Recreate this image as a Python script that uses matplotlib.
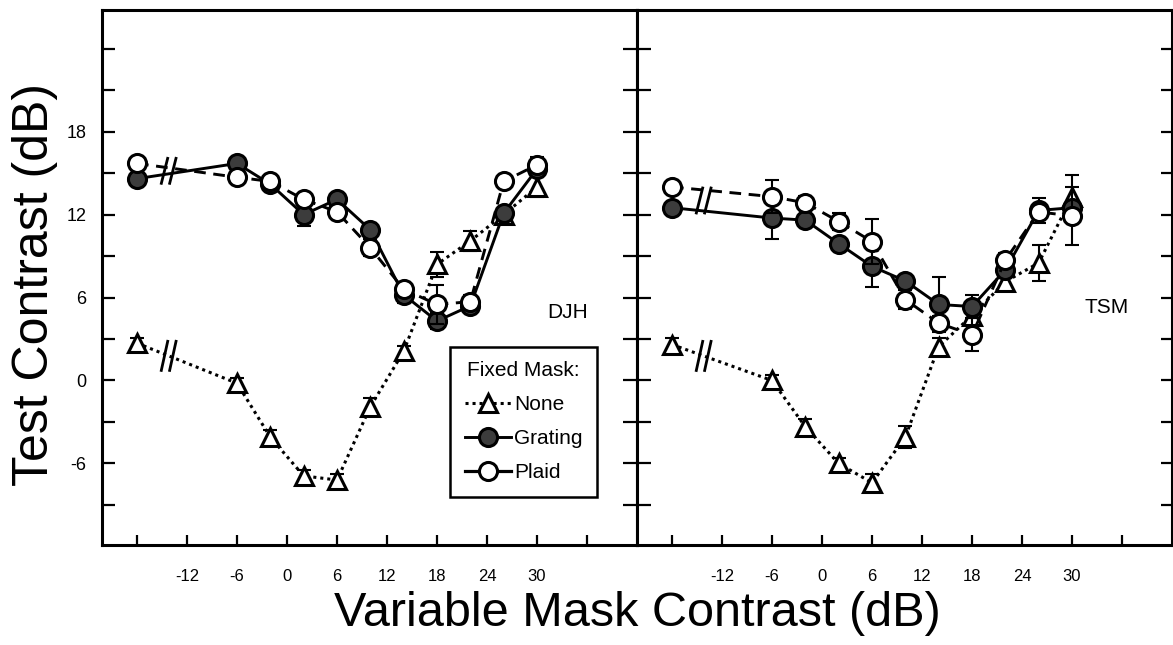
import matplotlib
matplotlib.use("Agg")
import matplotlib.pyplot as plt
import numpy as np
from matplotlib.lines import Line2D

plt.rcParams['font.family'] = ['Liberation Sans', 'DejaVu Sans']

# Variable mask contrast (dB). The first level is the "no variable mask"
# condition, plotted at -18 on the far side of the axis break.
mask_db = [-18, -6, -2, 2, 6, 10, 14, 18, 22, 26, 30]

# Observer DJH: test thresholds (dB) for each fixed-mask condition
djh_none = [2.7, -0.2, -4.1, -6.9, -7.2, -1.9, 2.1, 8.4, 10.1, 12.0, 14.0]
djh_none_err = [0.4, 0.4, 0.5, 0.4, 0.4, 0.6, 0.4, 0.9, 0.7, 0.4, 0.7]
djh_grating = [14.6, 15.7, 14.2, 12.0, 13.1, 10.9, 6.2, 4.3, 5.4, 12.1, 15.3]
djh_grating_err = [0.3, 0.3, 0.4, 0.8, 0.4, 0.5, 0.6, 0.6, 0.4, 0.4, 0.4]
djh_plaid = [15.7, 14.7, 14.4, 13.1, 12.2, 9.6, 6.6, 5.5, 5.7, 14.4, 15.6]
djh_plaid_err = [0.3, 0.3, 0.5, 0.4, 0.4, 0.6, 0.5, 1.4, 0.5, 0.4, 0.6]

# Observer TSM
tsm_none = [2.6, 0.0, -3.35, -6.0, -7.4, -4.1, 2.45, 4.7, 7.15, 8.5, 13.3]
tsm_none_err = [0.5, 0.4, 0.6, 0.4, 0.6, 0.8, 0.6, 0.6, 0.6, 1.3, 1.6]
tsm_grating = [12.5, 11.75, 11.6, 9.9, 8.25, 7.2, 5.5, 5.35, 8.0, 12.3, 12.5]
tsm_grating_err = [0.3, 1.5, 0.4, 0.4, 1.5, 0.4, 2.0, 0.8, 0.5, 0.9, 0.5]
tsm_plaid = [14.0, 13.3, 12.85, 11.5, 10.05, 5.85, 4.15, 3.3, 8.7, 12.2, 11.9]
tsm_plaid_err = [0.3, 1.2, 0.5, 0.6, 1.6, 0.7, 0.5, 1.2, 0.5, 0.6, 2.1]

x_ticks = list(range(-18, 37, 6))
x_labels = ['', '-12', '-6', '0', '6', '12', '18', '24', '30', '']
y_ticks = list(range(-9, 25, 3))
y_labels = [str(v) if v in (-6, 0, 6, 12, 18) else '' for v in y_ticks]

W, H = 1173, 645
fig = plt.figure(figsize=(W / 100, H / 100), dpi=100)


def px_axes(x0, x1, y0, y1):
    return fig.add_axes([x0 / W, 1 - y1 / H, (x1 - x0) / W, (y1 - y0) / H])


ax_l = px_axes(102, 637, 10, 545)
ax_r = px_axes(637, 1172, 10, 545)

DOT = (0, (1.0, 1.3))
DASH = (0, (4.0, 2.6))
GRAT_FILL = '#3c3c3c'
MS = 13


def draw_series(ax, y, err, ls, lw, marker, fc, z):
    ax.errorbar(mask_db, y, yerr=err, fmt='none', ecolor='black',
                elinewidth=1.5, capsize=5, capthick=1.5, zorder=z)
    ax.plot(mask_db, y, linestyle=ls, lw=lw, color='black', marker=marker,
            ms=MS, mfc=fc, mec='black', mew=2.2, zorder=z + 0.5)


def axis_break(ax, series, dy):
    # "//" marks on the connecting segment between the no-mask point and -6 dB
    xb = -14.2
    ys = [np.interp(xb, mask_db[:2], s[:2]) for s in series]
    yc = np.mean(ys)
    for xc in (xb - 0.5, xb + 0.5):
        ax.plot([xc - 0.42, xc + 0.42], [yc - dy, yc + dy], color='black',
                lw=2.0, solid_capstyle='butt', zorder=6)


def draw_panel(ax, none, none_err, grat, grat_err, plaid, plaid_err, name, name_xy):
    draw_series(ax, none, none_err, DOT, 2.2, '^', 'white', 2)
    draw_series(ax, grat, grat_err, '-', 2.1, 'o', GRAT_FILL, 4)
    draw_series(ax, plaid, plaid_err, DASH, 2.1, 'o', 'white', 5)
    axis_break(ax, [grat, plaid], 1.0)
    axis_break(ax, [none], 1.15)
    ax.text(name_xy[0], name_xy[1], name, fontsize=15, ha='center', va='center')
    ax.set_xlim(-22.2, 42.0)
    ax.set_ylim(-11.9, 26.8)
    ax.set_xticks(x_ticks)
    ax.set_xticklabels(x_labels, family=['Liberation Sans Narrow', 'Liberation Sans'],
                       fontsize=12)
    ax.set_yticks(y_ticks)
    for sp in ax.spines.values():
        sp.set_linewidth(2.2)
    ax.tick_params(axis='x', direction='in', length=7, width=1.6, pad=17)


draw_panel(ax_l, djh_none, djh_none_err, djh_grating, djh_grating_err,
           djh_plaid, djh_plaid_err, 'DJH', (33.7, 4.9))
draw_panel(ax_r, tsm_none, tsm_none_err, tsm_grating, tsm_grating_err,
           tsm_plaid, tsm_plaid_err, 'TSM', (34.2, 5.3))

ax_l.set_yticklabels(y_labels, fontsize=13)
ax_l.tick_params(axis='y', direction='in', length=9, width=1.6, pad=11)

ax_r.set_yticklabels([])
ax_r.tick_params(axis='y', direction='inout', length=20, width=1.6)
ax_r_twin = ax_r.twinx()
ax_r_twin.set_ylim(ax_r.get_ylim())
ax_r_twin.set_yticks(y_ticks)
ax_r_twin.set_yticklabels([])
ax_r_twin.tick_params(axis='y', direction='in', length=8, width=1.6)
for sp in ax_r_twin.spines.values():
    sp.set_visible(False)

handles = [
    Line2D([], [], color='black', ls=DOT, lw=2.2, marker='^', ms=MS,
           mfc='white', mec='black', mew=2.2),
    Line2D([], [], color='black', ls='-', lw=2.1, marker='o', ms=MS,
           mfc=GRAT_FILL, mec='black', mew=2.2),
    Line2D([], [], color='black', ls='-', lw=2.3, marker='o', ms=MS,
           mfc='white', mec='black', mew=2.2),
]
leg = ax_l.legend(handles, ['None', 'Grating', 'Plaid'], title='Fixed Mask:',
                  loc='lower right', bbox_to_anchor=(0.925, 0.09),
                  borderaxespad=0, fontsize=15, title_fontsize=15,
                  frameon=True, fancybox=False, framealpha=1, edgecolor='black',
                  handlelength=2.2, handletextpad=0.15, labelspacing=0.72,
                  borderpad=0.7)
leg.get_frame().set_linewidth(1.8)

fig.text(35 / W, 1 - 285 / H, 'Test Contrast (dB)', rotation=90,
         ha='center', va='center', fontsize=36)
fig.text(637 / W, 1 - 613 / H, 'Variable Mask Contrast (dB)',
         ha='center', va='center', fontsize=35)

fig.savefig('out.png', dpi=100)
